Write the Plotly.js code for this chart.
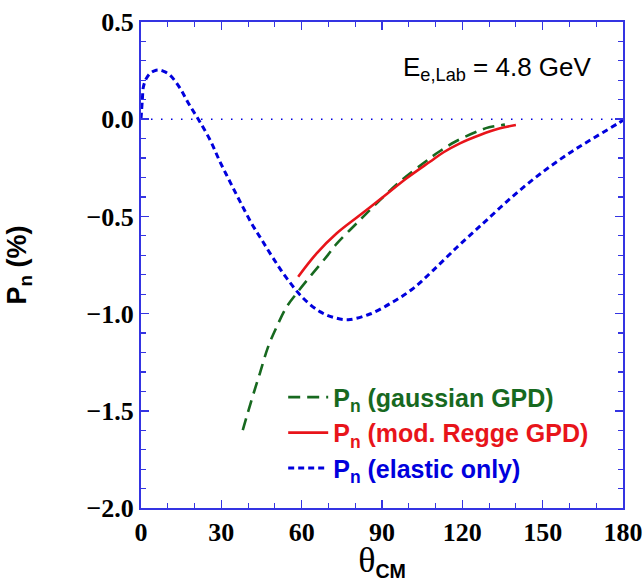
<!DOCTYPE html>
<html>
<head>
<meta charset="utf-8">
<script src="https://cdn.plot.ly/plotly-3.0.1.min.js"></script>
<style>html,body{margin:0;padding:0;background:#fff;}#chart{width:644px;height:582px;}</style>
</head>
<body>
<div id="chart"></div>
<script>
// Elastic only
const thetaElastic = [0, 0.5, 0.9, 2.0, 3.4, 5.0, 6.5, 8.5, 10.8, 14.6, 17.7, 21.4, 25.8, 29.5, 33.2, 37.0, 41.3, 45.1, 49.4, 54.4, 60.6, 66.8, 72.0, 77.4, 85.5, 94.2, 101.7, 109.2, 117.9, 124.6, 129.1, 136.6, 144.6, 152.7, 160.8, 168.9, 178.2, 180];
const pElastic     = [0, 0.10, 0.167, 0.21, 0.236, 0.249, 0.253, 0.246, 0.227, 0.159, 0.082, 0.0, -0.107, -0.219, -0.321, -0.424, -0.536, -0.621, -0.716, -0.818, -0.921, -0.990, -1.020, -1.031, -1.002, -0.939, -0.870, -0.776, -0.660, -0.575, -0.519, -0.424, -0.330, -0.244, -0.167, -0.098, -0.021, -0.005];
// gaussian GPD
const thetaGauss = [38.0, 41.3, 44.4, 47.5, 50.7, 54.4, 58.1, 63.1, 69.3, 73.1, 80.5, 88.0, 96.7, 105.4, 111.0, 117.3, 125.4, 130.0, 135.9];
const pGauss     = [-1.599, -1.444, -1.307, -1.170, -1.067, -0.965, -0.896, -0.810, -0.707, -0.640, -0.536, -0.433, -0.321, -0.227, -0.170, -0.116, -0.064, -0.042, -0.028];
// mod. Regge GPD
const thetaRegge = [58.7, 65.6, 73.1, 81.8, 90.5, 99.2, 107.9, 113.0, 119.1, 126.6, 134.1, 140.0];
const pRegge     = [-0.810, -0.690, -0.587, -0.493, -0.399, -0.304, -0.219, -0.170, -0.124, -0.081, -0.047, -0.030];
// zero reference
const thetaZero = [0, 180];
const pZero = [0, 0];

const xTickVals = [0, 30, 60, 90, 120, 150, 180];
const xTickText = ['0', '30', '60', '90', '120', '150', '180'];
const yTickVals = [0.5, 0.0, -0.5, -1.0, -1.5, -2.0];
const yTickText = ['0.5', '0.0', '\u22120.5', '\u22121.0', '\u22121.5', '\u22122.0'];

const cGreen = '#17691f', cRed = '#e8141a', cBlue = '#0000dd', cAxis = '#3434e2';

const traces = [
  {x: thetaZero, y: pZero, mode: 'lines', line: {color: cBlue, width: 1.5, dash: '1.5px,8.5px'}, showlegend: false, hoverinfo: 'skip'},
  {x: thetaGauss, y: pGauss, mode: 'lines', line: {color: cGreen, width: 2.6, dash: '12px,7px', shape: 'spline'},
   name: '<span style="color:' + cGreen + '">P<sub>n</sub> (gaussian GPD)</span>'},
  {x: thetaRegge, y: pRegge, mode: 'lines', line: {color: cRed, width: 2.6, shape: 'spline'},
   name: '<span style="color:' + cRed + '">P<sub>n</sub> (mod. Regge GPD)</span>'},
  {x: thetaElastic, y: pElastic, mode: 'lines', line: {color: cBlue, width: 3, dash: '6px,4px', shape: 'spline'},
   name: '<span style="color:' + cBlue + '">P<sub>n</sub> (elastic only)</span>'}
];

const layout = {
  width: 644, height: 582,
  margin: {l: 141, r: 21, t: 22, b: 74, pad: 0},
  paper_bgcolor: '#fff', plot_bgcolor: '#fff',
  font: {family: 'Liberation Serif', size: 22, color: '#000', weight: 700},
  showlegend: true,
  legend: {x: 0.295, y: 0.275, xanchor: 'left', yanchor: 'top', bgcolor: 'rgba(0,0,0,0)',
           font: {family: 'Liberation Sans', size: 25, weight: 700},
           tracegroupgap: 0, itemwidth: 40, traceorder: 'normal'},
  xaxis: {range: [0, 180], tickmode: 'array', tickvals: xTickVals, ticktext: xTickText,
          ticks: 'inside', ticklen: 8, tickwidth: 1.5, tickcolor: cAxis,
          minor: {dtick: 10, ticks: 'inside', ticklen: 5, tickwidth: 1.2, tickcolor: cAxis},
          showline: true, linecolor: cAxis, linewidth: 2, mirror: 'ticks',
          showgrid: false, zeroline: false,
          tickfont: {family: 'Liberation Serif', size: 26, color: '#000', weight: 700},
          title: {text: '<span style="font-family:Liberation Serif;font-size:36px;font-weight:normal">θ</span><sub><span style="font-family:Liberation Sans;font-weight:bold">CM</span></sub>',
                  font: {family: 'Liberation Sans', size: 28, color: '#000'}, standoff: 0}},
  yaxis: {range: [-2.0, 0.5], tickmode: 'array', tickvals: yTickVals, ticktext: yTickText,
          ticks: 'inside', ticklen: 8, tickwidth: 1.5, tickcolor: cAxis,
          minor: {dtick: 0.1, ticks: 'inside', ticklen: 5, tickwidth: 1.2, tickcolor: cAxis},
          showline: true, linecolor: cAxis, linewidth: 2, mirror: 'ticks',
          showgrid: false, zeroline: false,
          tickfont: {family: 'Liberation Serif', size: 26, color: '#000', weight: 700},
          title: {text: 'P<sub>n</sub> (%)', font: {family: 'Liberation Sans', size: 27, weight: 700, color: '#000'}, standoff: 52}},
  annotations: [
    {xref: 'paper', yref: 'paper', x: 0.94, y: 0.905, xanchor: 'right', yanchor: 'middle', showarrow: false,
     text: 'E<sub>e,Lab</sub> = 4.8 GeV', font: {family: 'Liberation Sans', size: 26, color: '#000', weight: 400}}
  ]
};

Plotly.newPlot('chart', traces, layout, {displayModeBar: false, staticPlot: true});
</script>
</body>
</html>
